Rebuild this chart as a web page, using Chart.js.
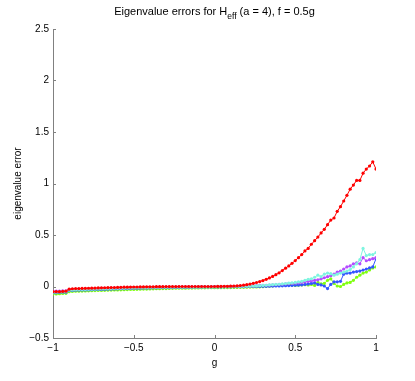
<!DOCTYPE html>
<html><head><meta charset="utf-8">
<script src="https://cdn.jsdelivr.net/npm/chart.js@4/dist/chart.umd.min.js"></script>
<style>html,body{margin:0;padding:0;background:#fff;}canvas{display:block;}</style>
</head><body>
<canvas id="c" width="415" height="381"></canvas>
<script>
const gValues = [
-1,-0.98,-0.96,-0.94,-0.92,-0.9,-0.88,-0.86,-0.84,-0.82,
-0.8,-0.78,-0.76,-0.74,-0.72,-0.7,-0.68,-0.66,-0.64,-0.62,
-0.6,-0.58,-0.56,-0.54,-0.52,-0.5,-0.48,-0.46,-0.44,-0.42,
-0.4,-0.38,-0.36,-0.34,-0.32,-0.3,-0.28,-0.26,-0.24,-0.22,
-0.2,-0.18,-0.16,-0.14,-0.12,-0.1,-0.08,-0.06,-0.04,-0.02,
0,0.02,0.04,0.06,0.08,0.1,0.12,0.14,0.16,0.18,
0.2,0.22,0.24,0.26,0.28,0.3,0.32,0.34,0.36,0.38,
0.4,0.42,0.44,0.46,0.48,0.5,0.52,0.54,0.56,0.58,
0.6,0.62,0.64,0.66,0.68,0.7,0.72,0.74,0.76,0.78,
0.8,0.82,0.84,0.86,0.88,0.9,0.92,0.94,0.96,0.98,
1];
const redErr = [
-0.05,-0.05,-0.05,-0.048,-0.045,-0.026,-0.022,-0.02,-0.02,-0.019,
-0.018,-0.017,-0.016,-0.015,-0.014,-0.013,-0.012,-0.011,-0.01,-0.01,
-0.009,-0.008,-0.007,-0.007,-0.006,-0.005,-0.005,-0.004,-0.004,-0.003,
-0.003,-0.003,-0.002,-0.002,-0.002,-0.001,-0.001,-0.001,-0.001,0,
0,0,0,0,0,0,0,0,0,0,
0,0.001,0.001,0.002,0.002,0.003,0.004,0.006,0.009,0.013,
0.018,0.024,0.031,0.039,0.048,0.058,0.07,0.083,0.098,0.115,
0.133,0.155,0.178,0.2,0.225,0.252,0.28,0.31,0.345,0.37,
0.41,0.445,0.48,0.52,0.555,0.6,0.645,0.665,0.73,0.775,
0.83,0.885,0.945,0.985,1.03,1.03,1.1,1.14,1.17,1.21,
1.14];
const cyanErr = [
-0.055,-0.055,-0.053,-0.052,-0.05,-0.035,-0.033,-0.031,-0.03,-0.029,
-0.028,-0.027,-0.026,-0.025,-0.024,-0.023,-0.022,-0.021,-0.02,-0.019,
-0.018,-0.017,-0.016,-0.015,-0.014,-0.013,-0.012,-0.012,-0.011,-0.011,
-0.01,-0.01,-0.009,-0.009,-0.008,-0.008,-0.007,-0.007,-0.006,-0.006,
-0.006,-0.005,-0.005,-0.005,-0.004,-0.004,-0.004,-0.003,-0.003,-0.003,
-0.003,-0.002,-0.002,-0.002,-0.001,-0.001,0,0,0.001,0.002,
0.003,0.004,0.005,0.006,0.008,0.01,0.012,0.015,0.018,0.02,
0.022,0.025,0.028,0.032,0.036,0.04,0.045,0.05,0.06,0.07,
0.075,0.09,0.11,0.095,0.12,0.13,0.125,0.11,0.12,0.13,
0.14,0.15,0.165,0.19,0.22,0.26,0.37,0.3,0.31,0.31,
0.33];
const magentaErr = [
-0.045,-0.045,-0.044,-0.043,-0.042,-0.03,-0.028,-0.027,-0.026,-0.025,
-0.024,-0.023,-0.022,-0.021,-0.02,-0.019,-0.018,-0.017,-0.016,-0.015,
-0.015,-0.014,-0.013,-0.012,-0.012,-0.011,-0.01,-0.01,-0.009,-0.009,
-0.008,-0.008,-0.007,-0.007,-0.006,-0.006,-0.005,-0.005,-0.005,-0.004,
-0.004,-0.004,-0.003,-0.003,-0.003,-0.003,-0.002,-0.002,-0.002,-0.002,
-0.001,-0.001,-0.001,0,0,0.001,0.001,0.002,0.003,0.004,
0.005,0.006,0.007,0.008,0.01,0.011,0.012,0.014,0.016,0.018,
0.02,0.022,0.025,0.028,0.03,0.033,0.036,0.04,0.045,0.05,
0.055,0.06,0.065,0.075,0.085,0.095,0.105,0.12,0.14,0.15,
0.17,0.19,0.2,0.22,0.23,0.22,0.28,0.25,0.26,0.27,
0.28];
const blueErr = [
-0.06,-0.06,-0.058,-0.056,-0.055,-0.04,-0.038,-0.036,-0.035,-0.034,
-0.033,-0.032,-0.031,-0.03,-0.029,-0.028,-0.027,-0.026,-0.025,-0.024,
-0.023,-0.022,-0.021,-0.02,-0.019,-0.018,-0.017,-0.016,-0.015,-0.015,
-0.014,-0.013,-0.013,-0.012,-0.011,-0.011,-0.01,-0.01,-0.009,-0.009,
-0.008,-0.008,-0.007,-0.007,-0.006,-0.006,-0.006,-0.005,-0.005,-0.005,
-0.004,-0.004,-0.004,-0.003,-0.003,-0.003,-0.002,-0.002,-0.002,-0.001,
-0.001,0,0,0.001,0.001,0.002,0.002,0.003,0.004,0.005,
0.006,0.007,0.008,0.009,0.01,0.012,0.014,0.016,0.02,0.025,
0.03,0.035,0.02,0.015,0.005,-0.02,0.02,0.045,0.045,0.05,
0.12,0.13,0.13,0.14,0.145,0.15,0.16,0.17,0.18,0.19,
0.27];
const greenErr = [
-0.072,-0.072,-0.07,-0.068,-0.066,-0.05,-0.048,-0.046,-0.045,-0.044,
-0.043,-0.042,-0.041,-0.04,-0.039,-0.038,-0.037,-0.036,-0.035,-0.034,
-0.033,-0.032,-0.031,-0.03,-0.029,-0.028,-0.027,-0.026,-0.025,-0.025,
-0.024,-0.023,-0.022,-0.021,-0.02,-0.02,-0.019,-0.018,-0.017,-0.017,
-0.016,-0.016,-0.015,-0.015,-0.014,-0.014,-0.013,-0.013,-0.012,-0.012,
-0.012,-0.011,-0.011,-0.01,-0.01,-0.01,-0.009,-0.009,-0.008,-0.008,
-0.007,-0.006,-0.005,-0.004,-0.003,-0.002,0,0.003,0.006,0.01,
0.012,0.015,0.018,0.02,0.015,0.01,0.012,0.015,0.018,0.015,
0.02,0.01,0.04,0.025,0.03,0.06,0.075,0.03,0.005,0,
0.02,0.035,0.04,0.06,0.09,0.11,0.13,0.14,0.16,0.18,
0.19];
const xTicks = [-1,-0.5,0,0.5,1];
const yTicks = [-0.5,0,0.5,1,1.5,2,2.5];
const titleMain = 'Eigenvalue errors for H';
const titleSub = 'eff';
const titleRest = ' (a = 4), f = 0.5g';
const xLabel = 'g';
const yLabel = 'eigenvalue error';

const FAM = "'Liberation Sans', Arial, Helvetica, sans-serif";
function fmt(v){ return String(v).replace('-', '\u2212'); }
function pts(arr){ return gValues.map((g,i)=>({x:g, y:arr[i]})); }
function ds(label, arr, color){
  return {label, data: pts(arr), borderColor: color, backgroundColor: color,
    pointBackgroundColor: color, pointBorderWidth: 0, pointRadius: 1.6,
    borderWidth: 1, tension: 0, fill: false};
}

const decor = {
  id: 'decor',
  afterDraw(chart){
    const ctx = chart.ctx, xs = chart.scales.x, ys = chart.scales.y, a = chart.chartArea;
    ctx.save();
    ctx.strokeStyle = '#808080'; ctx.lineWidth = 1;
    xTicks.forEach(v=>{ const px = Math.round(xs.getPixelForValue(v)) + 0.5;
      ctx.beginPath(); ctx.moveTo(px, a.bottom); ctx.lineTo(px, a.bottom - 3); ctx.stroke(); });
    yTicks.forEach(v=>{ const py = Math.round(ys.getPixelForValue(v)) + 0.5;
      ctx.beginPath(); ctx.moveTo(a.left, py); ctx.lineTo(a.left + 3, py); ctx.stroke(); });
    // title with subscript
    const mainFont = '11px ' + FAM, subFont = '8.5px ' + FAM;
    ctx.fillStyle = '#000'; ctx.textBaseline = 'alphabetic'; ctx.textAlign = 'left';
    ctx.font = mainFont; const w1 = ctx.measureText(titleMain).width, w3 = ctx.measureText(titleRest).width;
    ctx.font = subFont; const w2 = ctx.measureText(titleSub).width;
    const total = w1 + w2 + w3;
    let x = (a.left + a.right) / 2 - total / 2;
    const base = 15;
    ctx.font = mainFont; ctx.fillText(titleMain, x, base); x += w1;
    ctx.font = subFont; ctx.fillText(titleSub, x, base + 3.5); x += w2;
    ctx.font = mainFont; ctx.fillText(titleRest, x, base);
    ctx.restore();
  }
};

const tickFont = {family: FAM, size: 10};
new Chart(document.getElementById('c'), {
  type: 'line',
  data: { datasets: [
    ds('series 1', redErr, '#ff0000'),
    ds('series 2', cyanErr, '#7ff5e0'),
    ds('series 3', magentaErr, '#b44cff'),
    ds('series 4', blueErr, '#3355ff'),
    ds('series 5', greenErr, '#80ff10')
  ]},
  options: {
    responsive: false, devicePixelRatio: 1, animation: false,
    layout: { padding: {left: 0, right: 39, top: 29, bottom: 0} },
    plugins: { legend: {display: false}, tooltip: {enabled: false}, title: {display: false} },
    scales: {
      x: { type: 'linear', min: -1, max: 1,
        afterBuildTicks: s => { s.ticks = xTicks.map(v => ({value: v})); },
        afterFit: s => { s.height = 43; },
        ticks: { callback: v => fmt(v), font: tickFont, color: '#000', padding: 4, maxRotation: 0, autoSkip: false },
        grid: { display: true, drawOnChartArea: false, drawTicks: false },
        border: { display: true, color: '#808080', width: 1 },
        title: { display: true, text: xLabel, font: tickFont, color: '#000', padding: {top: 0, bottom: 12} }
      },
      y: { type: 'linear', min: -0.5, max: 2.5,
        afterBuildTicks: s => { s.ticks = yTicks.map(v => ({value: v})); },
        afterFit: s => { s.width = 53; },
        ticks: { callback: v => fmt(v), font: tickFont, color: '#000', padding: 4, autoSkip: false },
        grid: { display: true, drawOnChartArea: false, drawTicks: false },
        border: { display: true, color: '#808080', width: 1 },
        title: { display: true, text: yLabel, font: tickFont, color: '#000', padding: {top: 12, bottom: 0} }
      }
    }
  },
  plugins: [decor]
});
</script>
</body></html>
